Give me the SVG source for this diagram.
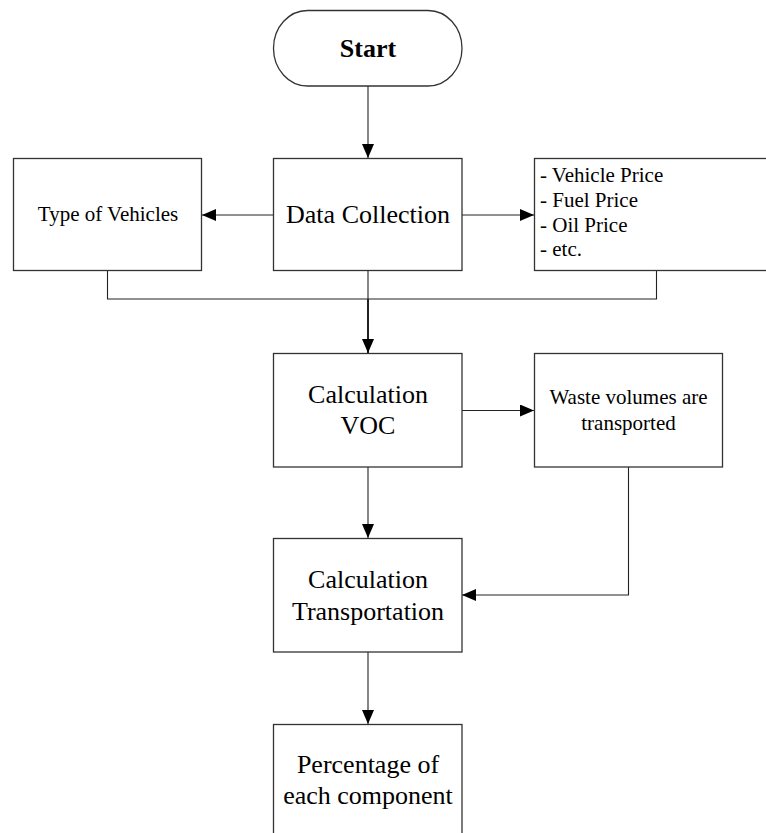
<svg xmlns="http://www.w3.org/2000/svg" width="766" height="833" viewBox="0 0 766 833">
<defs>
<marker id="ah" markerWidth="14" markerHeight="12" refX="14" refY="6" orient="auto" markerUnits="userSpaceOnUse">
<path d="M0,0 L14,6 L0,12 Z" fill="#000"/>
</marker>
<style>
.box{fill:#fff;stroke:#333;stroke-width:1.3}
.t{font-family:"Liberation Serif","Times New Roman",serif;fill:#000;text-anchor:middle}
.big{font-size:26px}
.sm{font-size:21px}
.c{fill:none;stroke:#222;stroke-width:1.1}
</style>
</defs>
<rect width="766" height="833" fill="#fff"/>
<g id="connectors">
<line class="c" x1="368" y1="86" x2="368" y2="158" marker-end="url(#ah)"/>
<line class="c" x1="274" y1="215" x2="202" y2="215" marker-end="url(#ah)"/>
<line class="c" x1="462" y1="215" x2="534" y2="215" marker-end="url(#ah)"/>
<polyline class="c" points="107.5,271 107.5,299 656.5,299 656.5,271"/>
<line class="c" x1="368" y1="271" x2="368" y2="299"/>
<line class="c" style="stroke-width:2" x1="368" y1="299" x2="368" y2="353" marker-end="url(#ah)"/>
<line class="c" x1="462" y1="410.5" x2="534" y2="410.5" marker-end="url(#ah)"/>
<line class="c" x1="368" y1="467" x2="368" y2="538" marker-end="url(#ah)"/>
<polyline class="c" points="628.5,467 628.5,595 462,595" marker-end="url(#ah)"/>
<line class="c" x1="368" y1="652" x2="368" y2="724" marker-end="url(#ah)"/>
</g>
<g id="start">
<rect class="box" x="273.5" y="10.5" width="188.5" height="75.5" rx="34" ry="37.75"/>
<text class="t big" x="368" y="57" font-weight="bold">Start</text>
</g>
<g id="type-of-vehicles">
<rect class="box" x="13.5" y="158.5" width="188" height="112"/>
<text class="t sm" x="108" y="221">Type of Vehicles</text>
</g>
<g id="data-collection">
<rect class="box" x="273.5" y="158.5" width="188.5" height="112"/>
<text class="t big" x="368" y="223">Data Collection</text>
</g>
<g id="prices">
<rect class="box" x="534.5" y="158.5" width="240" height="112"/>
<text class="t sm" style="text-anchor:start" x="540" y="182">- Vehicle Price</text>
<text class="t sm" style="text-anchor:start" x="540" y="207">- Fuel Price</text>
<text class="t sm" style="text-anchor:start" x="540" y="232">- Oil Price</text>
<text class="t sm" style="text-anchor:start" x="540" y="256">- etc.</text>
</g>
<g id="calc-voc">
<rect class="box" x="273.5" y="353.5" width="188.5" height="113.5"/>
<text class="t big" x="368" y="403">Calculation</text>
<text class="t big" x="368" y="434">VOC</text>
</g>
<g id="waste">
<rect class="box" x="534.5" y="353.5" width="188" height="113.5"/>
<text class="t sm" x="628.5" y="404">Waste volumes are</text>
<text class="t sm" x="628.5" y="430">transported</text>
</g>
<g id="calc-transport">
<rect class="box" x="273.5" y="538.5" width="188.5" height="113.5"/>
<text class="t big" x="368" y="588">Calculation</text>
<text class="t big" x="368" y="620">Transportation</text>
</g>
<g id="percentage">
<rect class="box" x="273.5" y="724.5" width="188.5" height="130"/>
<text class="t big" x="368" y="773">Percentage of</text>
<text class="t big" x="368" y="804">each component</text>
</g>
</svg>
